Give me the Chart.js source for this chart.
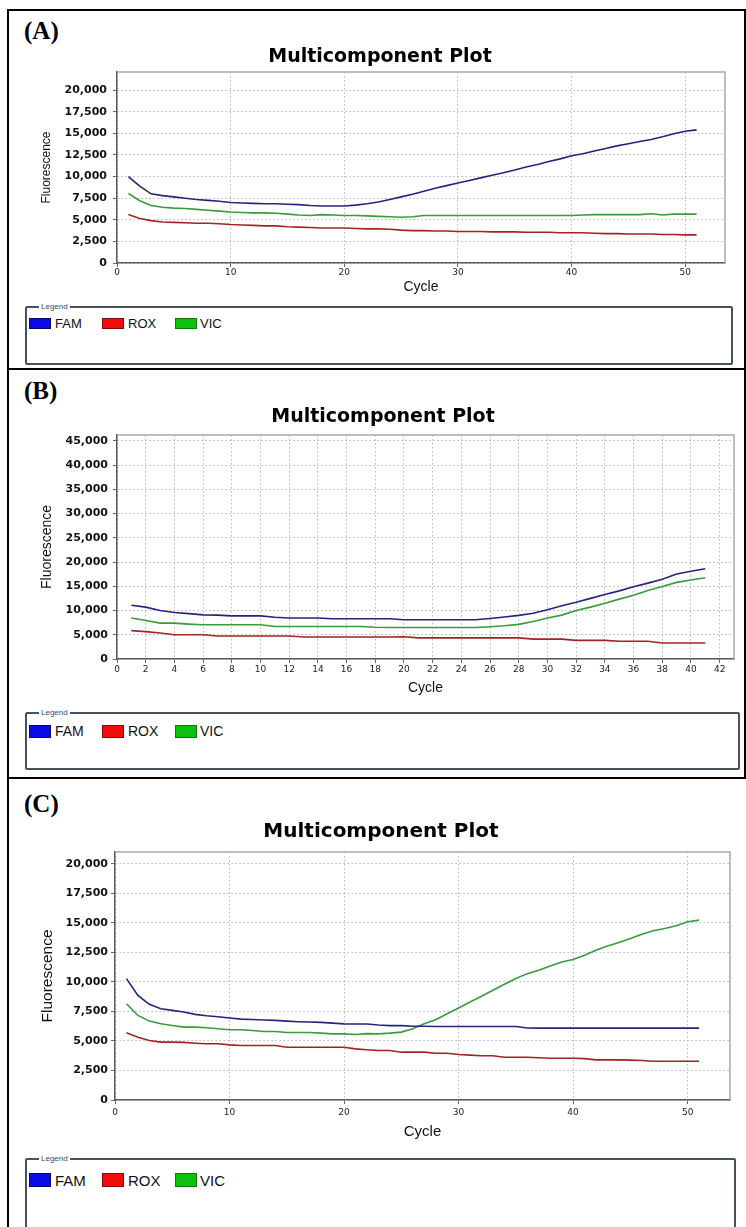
<!DOCTYPE html>
<html>
<head>
<meta charset="utf-8">
<script src="https://cdn.jsdelivr.net/npm/chart.js@4.4.1/dist/chart.umd.min.js"></script>
<style>
  body { margin: 0; width: 746px; height: 1227px; overflow: hidden; background: #fff; position: relative; }
  .rule { position: absolute; background: #000; }
  .tag { position: absolute; font: bold 25px 'Liberation Serif', 'Times New Roman', serif; line-height: 25px; color: #000; }
  canvas { position: absolute; }
  .box { position: absolute; border: 2px solid #46535d; border-radius: 2px; box-sizing: border-box; }
  .cap { position: absolute; top: -6px; left: 12px; padding: 0 2px; background: #fff;
         font: 8px 'Liberation Sans', Arial, sans-serif; line-height: 9px; color: #2b4d7a; }
  .sw { position: absolute; width: 22px; box-sizing: border-box; border: 1px solid; }
  .lbl { position: absolute; font-family: 'Liberation Sans', Arial, sans-serif; color: #111; }
</style>
</head>
<body>

<div class="rule" style="left:7px;top:9px;width:739px;height:2px"></div>
<div class="rule" style="left:7px;top:9px;width:2px;height:1218px"></div>
<div class="rule" style="left:744px;top:9px;width:2px;height:770px"></div>
<div class="rule" style="left:7px;top:368px;width:739px;height:2px"></div>
<div class="rule" style="left:7px;top:777px;width:739px;height:2px"></div>

<div class="tag" style="left:24px;top:18px">(A)</div>
<div class="tag" style="left:24px;top:378px">(B)</div>
<div class="tag" style="left:24px;top:791px">(C)</div>

<canvas id="chartA" width="736" height="251" style="left:10px;top:46px"></canvas>
<canvas id="chartB" width="736" height="292" style="left:10px;top:406px"></canvas>
<canvas id="chartC" width="736" height="322" style="left:10px;top:820px"></canvas>

<script>
const plotTitle = 'Multicomponent Plot';
const xLabel = 'Cycle';
const yLabel = 'Fluorescence';
const seriesNames = ['FAM', 'ROX', 'VIC'];
const lineColors = ['#25257d', '#a42323', '#3b9b3b'];
const swatchFill = ['#0b0be8', '#f20b0b', '#0cc00c'];
const swatchEdge = ['#06066e', '#8a0a0a', '#087a08'];

// tick values
const xTicks50 = [0, 10, 20, 30, 40, 50];
const xTicks42 = [0,2,4,6,8,10,12,14,16,18,20,22,24,26,28,30,32,34,36,38,40,42];
const yTicks20k = [0, 2500, 5000, 7500, 10000, 12500, 15000, 17500, 20000];
const yTicks45k = [0, 5000, 10000, 15000, 20000, 25000, 30000, 35000, 40000, 45000];

// panel A
const cyclesA = [1,2,3,4,5,6,7,8,9,10,11,12,13,14,15,16,17,18,19,20,21,22,23,24,25,26,
  27,28,29,30,31,32,33,34,35,36,37,38,39,40,41,42,43,44,45,46,47,48,49,50,51];
const famA = [10000,8900,8000,7800,7650,7500,7350,7250,7150,7000,6950,6900,6850,6850,6800,6750,
  6650,6600,6600,6600,6700,6850,7050,7350,7650,7950,8300,8650,8950,9250,9550,9850,10150,10450,
  10750,11100,11400,11750,12050,12400,12650,12950,13250,13550,13800,14050,14300,14600,14950,15250,15400];
const roxA = [5600,5150,4900,4750,4700,4650,4600,4600,4550,4450,4400,4350,4300,4300,4200,4150,
  4100,4050,4050,4050,4000,3950,3950,3900,3800,3750,3750,3700,3700,3650,3650,3650,3600,3600,
  3600,3550,3550,3550,3500,3500,3500,3450,3400,3400,3350,3350,3350,3300,3300,3250,3250];
const vicA = [8050,7200,6650,6450,6350,6300,6200,6100,6000,5900,5850,5800,5800,5750,5650,5550,
  5500,5600,5550,5500,5500,5450,5400,5350,5300,5350,5500,5500,5500,5500,5500,5500,5500,5500,
  5500,5500,5500,5500,5500,5500,5550,5600,5600,5600,5600,5600,5700,5550,5650,5650,5650];

// panel B
const cyclesB = [1,2,3,4,5,6,7,8,9,10,11,12,13,14,15,16,17,18,19,20,21,22,23,24,25,26,
  27,28,29,30,31,32,33,34,35,36,37,38,39,40,41];
const famB = [11100,10700,10000,9600,9350,9100,9050,8900,8900,8900,8600,8450,8450,8450,8300,8300,
  8300,8300,8300,8100,8100,8100,8100,8100,8100,8350,8650,9000,9450,10150,11000,11700,12500,
  13300,14050,14900,15650,16450,17550,18100,18600];
const roxB = [5850,5650,5350,5000,5000,5000,4750,4750,4750,4750,4750,4750,4550,4550,4550,4550,
  4550,4550,4550,4600,4350,4350,4350,4350,4350,4350,4350,4350,4100,4100,4100,3850,3850,3850,
  3650,3650,3650,3300,3300,3300,3300];
const vicB = [8450,7950,7400,7400,7200,7050,7050,7050,7050,7050,6700,6700,6700,6700,6700,6700,
  6700,6550,6500,6500,6500,6500,6500,6500,6500,6650,6850,7150,7750,8450,9050,10000,10700,
  11500,12350,13150,14150,14950,15800,16300,16750];

// panel C
const cyclesC = [1,2,3,4,5,6,7,8,9,10,11,12,13,14,15,16,17,18,19,20,21,22,23,24,25,26,
  27,28,29,30,31,32,33,34,35,36,37,38,39,40,41,42,43,44,45,46,47,48,49,50,51];
const famC = [10280,8860,8100,7730,7590,7450,7250,7130,7050,6940,6850,6820,6770,6740,6680,6630,
  6600,6570,6510,6450,6430,6430,6350,6300,6300,6250,6250,6230,6230,6230,6230,6230,6230,6230,
  6230,6100,6090,6090,6090,6090,6090,6090,6090,6090,6090,6090,6090,6090,6090,6090,6090];
const roxC = [5690,5320,5040,4900,4900,4880,4810,4760,4760,4670,4610,4610,4610,4610,4470,4470,
  4470,4470,4470,4470,4330,4250,4190,4190,4050,4050,4050,3960,3960,3850,3800,3750,3750,3620,
  3620,3620,3580,3540,3540,3540,3500,3400,3400,3400,3380,3340,3280,3280,3280,3280,3280];
const vicC = [8150,7160,6680,6450,6310,6170,6170,6120,6030,5950,5950,5890,5800,5800,5720,5720,
  5720,5660,5600,5600,5550,5620,5600,5660,5750,6030,6450,6790,7300,7790,8300,8780,9290,9800,
  10280,10700,10990,11350,11690,11890,12260,12680,13050,13330,13670,14040,14330,14520,14750,15090,15230];

const panels = [
  { id: 'chartA', cycles: cyclesA, series: [famA, roxA, vicA],
    xMax: 53.5, xTicks: xTicks50, yMax: 22100, yTicks: yTicks20k,
    padL: 25, padR: 21, yWidth: 82, xHeight: 34,
    titleSize: 19, titlePad: 3.2, yTitleSize: 12, yTitlePad: 4.8,
    xTitleSize: 14, xTitlePad: 1.6, xTickPad: 0, yTickPad: 6,
    legend: { top: 306, height: 59, width: 708, item: 17, sw: 11, text: 13 } },
  { id: 'chartB', cycles: cyclesB, series: [famB, roxB, vicB],
    xMax: 43, xTicks: xTicks42, yMax: 46200, yTicks: yTicks45k,
    padL: 22, padR: 12, yWidth: 85, xHeight: 39,
    titleSize: 19, titlePad: 6.2, yTitleSize: 14, yTitlePad: 7.1,
    xTitleSize: 14, xTitlePad: 1.6, xTickPad: 1.6, yTickPad: 5,
    legend: { top: 712, height: 58, width: 715, item: 19, sw: 13, text: 14 } },
  { id: 'chartC', cycles: cyclesC, series: [famC, roxC, vicC],
    xMax: 53.7, xTicks: xTicks50, yMax: 21000, yTicks: yTicks20k,
    padL: 22, padR: 16, yWidth: 83, xHeight: 42,
    titleSize: 20, titlePad: 8, yTitleSize: 15.5, yTitlePad: 6.5,
    xTitleSize: 15, xTitlePad: 1, xTickPad: 3.6, yTickPad: 3,
    legend: { top: 1158, height: 90, width: 711, item: 22, sw: 14, text: 15 } }
];

// grey frame on the top and right of the plot area
const plotFrame = {
  id: 'plotFrame',
  beforeDatasetsDraw(chart) {
    const { ctx, chartArea: a } = chart;
    ctx.save();
    ctx.strokeStyle = '#a9a9a9';
    ctx.lineWidth = 1.5;
    ctx.beginPath();
    ctx.moveTo(a.left, a.top);
    ctx.lineTo(a.right, a.top);
    ctx.lineTo(a.right, a.bottom);
    ctx.stroke();
    ctx.restore();
  }
};

const uiFont = "'Liberation Sans', Arial, sans-serif";
const tickFont = "'DejaVu Sans', Verdana, sans-serif";

function buildChart(p) {
  const datasets = seriesNames.map((name, i) => ({
    label: name,
    data: p.cycles.map((c, k) => ({ x: c, y: p.series[i][k] })),
    borderColor: lineColors[i],
    borderWidth: 1.6,
    pointRadius: 0,
    tension: 0,
    fill: false
  }));

  new Chart(document.getElementById(p.id), {
    type: 'line',
    data: { datasets },
    options: {
      responsive: false,
      animation: false,
      layout: { padding: { left: p.padL, right: p.padR, top: 0, bottom: 0 } },
      plugins: {
        legend: { display: false },
        tooltip: { enabled: false },
        title: {
          display: true,
          text: plotTitle,
          color: '#000',
          font: { family: tickFont, size: p.titleSize, weight: 'bold' },
          padding: { top: 0, bottom: p.titlePad }
        }
      },
      scales: {
        x: {
          type: 'linear',
          min: 0,
          max: p.xMax,
          afterBuildTicks: s => { s.ticks = p.xTicks.map(v => ({ value: v })); },
          afterFit: s => { s.height = p.xHeight; },
          ticks: {
            autoSkip: false,
            maxRotation: 0,
            padding: p.xTickPad,
            color: '#222',
            font: { family: tickFont, size: 9 }
          },
          grid: { color: '#b8b8b8', lineWidth: 1, tickLength: 4, tickColor: '#666' },
          border: { color: '#5a5a5a', width: 1.5, dash: [1.5, 2.5] },
          title: {
            display: true,
            text: xLabel,
            color: '#111',
            font: { family: uiFont, size: p.xTitleSize },
            padding: { top: 0, bottom: p.xTitlePad }
          }
        },
        y: {
          min: 0,
          max: p.yMax,
          afterBuildTicks: s => { s.ticks = p.yTicks.map(v => ({ value: v })); },
          afterFit: s => { s.width = p.yWidth; },
          ticks: {
            padding: p.yTickPad,
            color: '#111',
            font: { family: tickFont, size: 11, weight: 'bold' },
            callback: v => v.toLocaleString('en-US')
          },
          grid: { color: '#b8b8b8', lineWidth: 1, tickLength: 4, tickColor: '#666' },
          border: { color: '#5a5a5a', width: 1.5, dash: [1.5, 2.5] },
          title: {
            display: true,
            text: yLabel,
            color: '#111',
            font: { family: uiFont, size: p.yTitleSize },
            padding: { top: p.yTitlePad, bottom: 0 }
          }
        }
      }
    },
    plugins: [plotFrame]
  });
}

function buildLegend(p) {
  const L = p.legend;
  const box = document.createElement('div');
  box.className = 'box';
  box.style.left = '25px';
  box.style.top = L.top + 'px';
  box.style.width = L.width + 'px';
  box.style.height = L.height + 'px';
  const cap = document.createElement('div');
  cap.className = 'cap';
  cap.textContent = 'Legend';
  box.appendChild(cap);
  document.body.appendChild(box);

  const swX = [29, 102, 175];
  const txtX = [55, 128, 200];
  seriesNames.forEach((name, i) => {
    const sw = document.createElement('div');
    sw.className = 'sw';
    sw.style.left = swX[i] + 'px';
    sw.style.top = (L.top + L.item - L.sw / 2) + 'px';
    sw.style.height = L.sw + 'px';
    sw.style.background = swatchFill[i];
    sw.style.borderColor = swatchEdge[i];
    document.body.appendChild(sw);

    const t = document.createElement('div');
    t.className = 'lbl';
    t.textContent = name;
    t.style.left = txtX[i] + 'px';
    t.style.fontSize = L.text + 'px';
    t.style.lineHeight = L.text + 'px';
    t.style.top = (L.top + L.item - L.text / 2) + 'px';
    document.body.appendChild(t);
  });
}

panels.forEach(p => {
  buildChart(p);
  buildLegend(p);
});
</script>
</body>
</html>
